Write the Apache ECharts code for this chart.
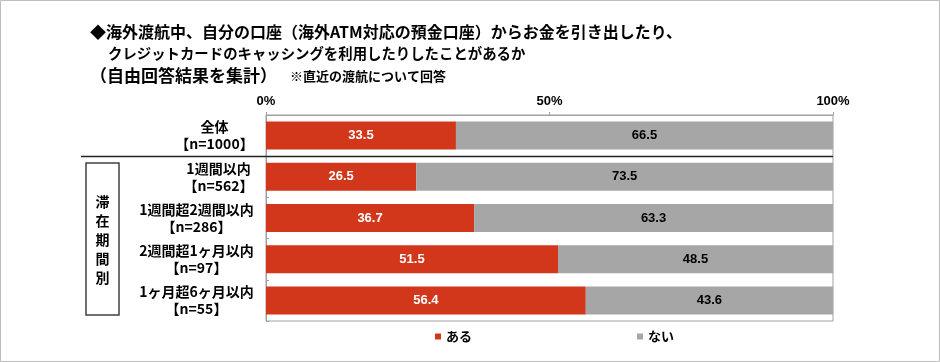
<!DOCTYPE html>
<html><head><meta charset="utf-8">
<script src="https://cdn.jsdelivr.net/npm/echarts@6/dist/echarts.min.js"></script>
<style>html,body{margin:0;padding:0;background:#fff}#c{width:940px;height:362px}</style>
</head><body><div id="c"></div>
<script>
const categories = ['全体', '1週間以内', '1週間超2週間以内', '2週間超1ヶ月以内', '1ヶ月超6ヶ月以内'];
const sampleSizes = ['【n=1000】', '【n=562】', '【n=286】', '【n=97】', '【n=55】'];
const seriesNames = ['ある', 'ない'];
const aruValues = [33.5, 26.5, 36.7, 51.5, 56.4];
const naiValues = [66.5, 73.5, 63.3, 48.5, 43.6];
const xTicks = [0, 50, 100];
const groupLabel = ['滞', '在', '期', '間', '別'];
const titleLines = [
  '◆海外渡航中、自分の口座（海外ATM対応の預金口座）からお金を引き出したり、',
  'クレジットカードのキャッシングを利用したりしたことがあるか',
  '（自由回答結果を集計）'
];
const titleNote = '※直近の渡航について回答';

const FONT = '"Noto Sans CJK JP", "Noto Sans", sans-serif';
const NUMFONT = '"Liberation Sans", Arial, sans-serif';
const RED = '#D2371C', GREY = '#A6A6A6', AXIS = '#A0A0A0';

const cv = document.createElement('canvas').getContext('2d');
cv.font = 'bold 14px "Noto Sans CJK JP"';
const rich = {};
categories.forEach((c, i) => {
  const w = Math.ceil(Math.max(cv.measureText(c).width, cv.measureText(sampleSizes[i]).width));
  rich['r' + i] = {width: w, align: 'center', fontSize: 14, fontWeight: 'bold', fontFamily: FONT, color: '#000', lineHeight: 17};
});

const tStyle = (size, extra) => Object.assign({fontFamily: FONT, fontSize: size, fontWeight: 'bold', color: '#000', lineHeight: 22}, extra || {});

const chart = echarts.init(document.getElementById('c'), null, {renderer: 'canvas'});
chart.setOption({
  animation: false,
  backgroundColor: '#fff',
  title: {
    text: '{a|' + titleLines[0] + '}\n{b|' + titleLines[1] + '}\n{c|' + titleLines[2] + '}{n|　' + titleNote + '}',
    left: 85, top: 16,
    textStyle: {
      fontFamily: FONT, fontSize: 15, fontWeight: 'bold', color: '#000', lineHeight: 22,
      rich: {a: tStyle(16), b: tStyle(14.4, {padding: [0, 0, 0, 18]}), c: tStyle(17), n: tStyle(13)}
    }
  },
  legend: {
    data: seriesNames, left: 430, top: 325, itemWidth: 6, itemHeight: 6, itemGap: 165, icon: 'rect',
    textStyle: {fontFamily: FONT, fontSize: 13, fontWeight: 'bold', color: '#000'}
  },
  grid: {left: 266, top: 115, width: 567, height: 206, show: true, borderColor: AXIS, borderWidth: 1, containLabel: false},
  xAxis: {
    type: 'value', position: 'top', min: xTicks[0], max: xTicks[xTicks.length - 1], interval: xTicks[1] - xTicks[0],
    axisLine: {show: true, lineStyle: {color: AXIS}},
    axisTick: {show: true, length: 3, lineStyle: {color: AXIS}},
    splitLine: {show: false},
    axisLabel: {formatter: '{value}%', fontFamily: NUMFONT, fontSize: 13, fontWeight: 'bold', color: '#000', margin: 7}
  },
  yAxis: {
    type: 'category', inverse: true, data: categories,
    axisLine: {show: true, lineStyle: {color: AXIS}},
    axisTick: {show: true, inside: true, length: 3, lineStyle: {color: AXIS}},
    axisLabel: {
      margin: 12,
      formatter: (v, i) => '{r' + i + '|' + v + '}\n{r' + i + '|' + sampleSizes[i] + '}',
      rich: rich
    }
  },
  series: [
    {
      name: seriesNames[0], type: 'bar', stack: 't', data: aruValues, barWidth: '68%',
      itemStyle: {color: RED},
      label: {show: true, position: 'inside', color: '#fff', fontFamily: NUMFONT, fontSize: 13, fontWeight: 'bold', formatter: p => p.value.toFixed(1)}
    },
    {
      name: seriesNames[1], type: 'bar', stack: 't', data: naiValues, barWidth: '68%',
      itemStyle: {color: GREY},
      label: {show: true, position: 'inside', color: '#000', fontFamily: NUMFONT, fontSize: 13, fontWeight: 'bold', formatter: p => p.value.toFixed(1)}
    }
  ]
});

const yA = chart.convertToPixel({yAxisIndex: 0}, categories[0]);
const yB = chart.convertToPixel({yAxisIndex: 0}, categories[1]);
const sepY = Math.round((yA + yB) / 2) + 0.5;
chart.setOption({
  graphic: [
    {type: 'rect', shape: {x: 0.5, y: 0.5, width: 939, height: 361}, style: {fill: 'none', stroke: '#BDBDBD', lineWidth: 1}, silent: true},
    {type: 'line', shape: {x1: 81, y1: sepY, x2: 833, y2: sepY}, style: {stroke: '#222', lineWidth: 1.5}, z: 10},
    {type: 'rect', shape: {x: 86, y: 163, width: 33, height: 152}, style: {fill: 'none', stroke: '#404040', lineWidth: 1.5}},
    {type: 'text', x: 102.5, y: 240, style: {text: groupLabel.join('\n'), textAlign: 'center', textVerticalAlign: 'middle', fontFamily: FONT, fontSize: 14, fontWeight: 'bold', lineHeight: 19, fill: '#000'}}
  ]
});
</script>
</body></html>
